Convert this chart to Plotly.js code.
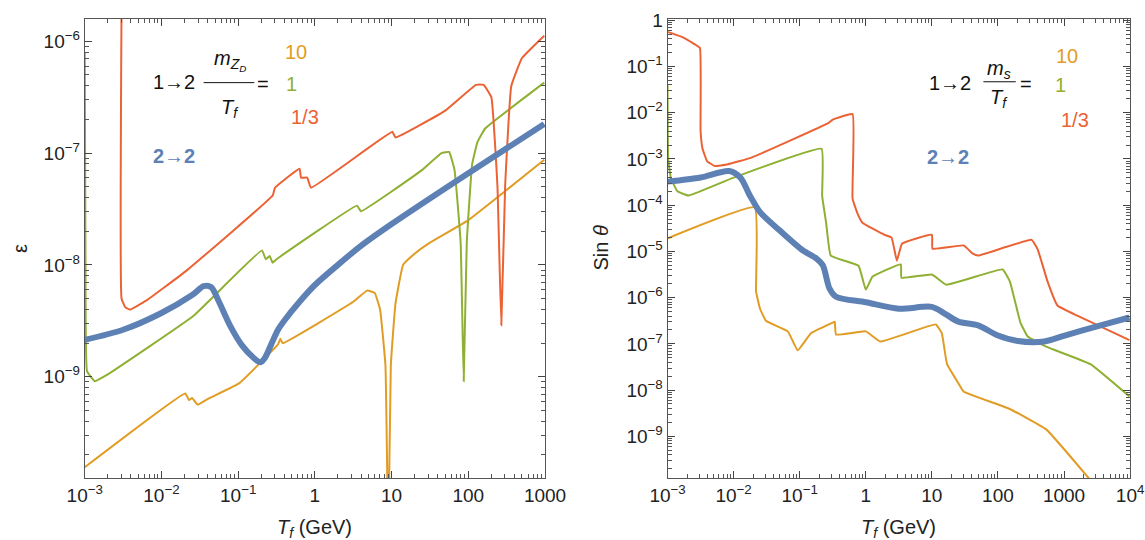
<!DOCTYPE html>
<html>
<head>
<meta charset="utf-8">
<script src="https://cdn.plot.ly/plotly-3.0.1.min.js"></script>
<style>body{margin:0;background:#fff}#plot{width:1145px;height:540px}</style>
</head>
<body>
<div id="plot"></div>
<script>
// values stored as log10 exponents
var leftOrangeX = [-3, -1.69, -1.64, -1.6, -1.53, -1.4, -0.99, -0.48, -0.45, -0.42, 0.5, 0.68, 0.78, 0.85, 0.92, 0.957, 0.99, 1.05, 1.15, 1.3, 1.48, 2.0, 2.99];
var leftOrangeY = [-9.81, -9.15, -9.21, -9.19, -9.25, -9.2, -9.06, -8.71, -8.66, -8.70, -8.33, -8.23, -8.25, -8.4, -8.9, -10.5, -8.9, -8.35, -8.0, -7.9, -7.81, -7.6, -7.06];
var leftGreenX = [-3, -2.99, -2.97, -2.87, -2.7, -1.59, -0.69, -0.64, -0.59, -0.55, -0.5, 0.55, 0.6, 1.4, 1.65, 1.75, 1.82, 1.9, 1.94, 1.98, 2.05, 2.12, 2.22, 2.99];
var leftGreenY = [-6.1, -8.0, -8.95, -9.04, -8.98, -8.46, -7.87, -7.95, -7.92, -7.98, -7.95, -7.47, -7.52, -7.15, -7.0, -6.99, -7.15, -7.8, -9.04, -7.8, -7.1, -6.9, -6.78, -6.37];
var leftRedX = [-2.52, -2.52, -2.47, -2.41, -2.2, -1.69, -0.55, -0.52, -0.2, -0.18, -0.1, -0.05, 1.01, 1.05, 1.7, 2.1, 2.2, 2.3, 2.38, 2.43, 2.48, 2.56, 2.7, 2.99];
var leftRedY = [-5.7, -8.3, -8.38, -8.40, -8.32, -8.06, -7.38, -7.31, -7.14, -7.22, -7.22, -7.31, -6.81, -6.86, -6.62, -6.39, -6.39, -6.5, -7.3, -8.54, -7.3, -6.4, -6.15, -5.95];
var leftBlueX = [-3, -2.5, -2, -1.6, -1.45, -1.35, -1.25, -1.1, -0.95, -0.8, -0.71, -0.65, -0.55, -0.48, -0.4, -0.2, 0, 0.3, 0.6, 1.01, 2, 2.99];
var leftBlueY = [-8.67, -8.58, -8.43, -8.27, -8.19, -8.2, -8.33, -8.55, -8.72, -8.83, -8.87, -8.83, -8.68, -8.58, -8.5, -8.33, -8.18, -8.0, -7.83, -7.63, -7.18, -6.74];

var rightRedX = [-3, -2.8, -2.6, -2.51, -2.5, -2.47, -2.4, -2.29, -2.1, -1.73, -0.56, -0.5, -0.2, -0.2, -0.12, -0.05, 0.28, 0.39, 0.47, 0.55, 1.0, 1.01, 1.48, 1.62, 1.7, 2.51, 2.6, 2.75, 2.9, 3.2, 3.99];
var rightRedY = [-0.25, -0.35, -0.51, -0.6, -2.4, -2.78, -3.05, -3.15, -3.12, -2.97, -2.22, -2.15, -2.03, -3.86, -4.2, -4.38, -4.64, -4.7, -5.2, -4.83, -4.64, -4.94, -4.87, -5.05, -5.09, -4.75, -4.95, -5.65, -6.17, -6.39, -6.92];
var rightGreenX = [-3, -2.99, -2.95, -2.85, -2.68, -2.01, -0.67, -0.66, -0.6, -0.53, -0.11, 0.0, 0.1, 0.53, 0.54, 1.0, 1.22, 2.07, 2.18, 2.34, 2.45, 2.73, 3.4, 3.99];
var rightGreenY = [-1.4, -3.0, -3.41, -3.7, -3.79, -3.41, -2.78, -3.8, -4.38, -5.09, -5.31, -5.83, -5.55, -5.28, -5.57, -5.5, -5.72, -5.39, -5.65, -6.54, -6.84, -7.06, -7.44, -8.14];
var rightOrangeX = [-3, -1.68, -1.66, -1.6, -1.51, -1.18, -1.03, -0.83, -0.5, -0.47, -0.45, 0.0, 0.22, 1.06, 1.15, 1.23, 1.4, 1.48, 2.18, 2.73, 3.4];
var rightOrangeY = [-4.72, -4.05, -5.87, -6.24, -6.5, -6.73, -7.14, -6.77, -6.54, -6.52, -6.8, -6.73, -6.95, -6.58, -6.77, -7.44, -7.85, -8.03, -8.41, -8.85, -9.95];
var rightBlueX = [-3, -2.5, -2.07, -1.9, -1.75, -1.6, -1.3, -0.95, -0.75, -0.65, -0.55, -0.45, 0, 0.5, 1.0, 1.2, 1.4, 1.7, 2.0, 2.3, 2.7, 3.01, 3.5, 3.99];
var rightBlueY = [-3.49, -3.4, -3.26, -3.4, -3.8, -4.15, -4.55, -4.98, -5.15, -5.3, -5.8, -5.98, -6.1, -6.24, -6.2, -6.35, -6.52, -6.6, -6.82, -6.94, -6.95, -6.82, -6.62, -6.43];

var leftTickVals = [-9, -8, -7, -6];
var rightTickVals = [-9, -8, -7, -6, -5, -4, -3, -2, -1, 0];
var leftXTicks = [-3, -2, -1, 0, 1, 2, 3];
var leftXText = ['10<sup>−3</sup>', '10<sup>−2</sup>', '10<sup>−1</sup>', '1', '10', '100', '1000'];
var rightXTicks = [-3, -2, -1, 0, 1, 2, 3, 4];
var rightXText = ['10<sup>−3</sup>', '10<sup>−2</sup>', '10<sup>−1</sup>', '1', '10', '100', '1000', '10<sup>4</sup>'];
var minorMult = [2, 3, 4, 5, 6, 7, 8, 9];

var blue = '#5E81B5', orange = '#E19C24', green = '#8FB032', red = '#EB6235';
function p(a) { return a.map(function (v) { return Math.pow(10, v); }); }
function sup(e) { return e === 0 ? '1' : '10<sup>' + (e < 0 ? '−' + (-e) : e) + '</sup>'; }
function minors(lo, hi) {
  var out = [];
  for (var e = lo; e <= hi; e++) minorMult.forEach(function (m) { out.push(m * Math.pow(10, e)); });
  return out;
}

function tr(x, y, c, w, ax, sm) {
  return {x: p(x), y: p(y), mode: 'lines', line: {color: c, width: w, shape: 'spline', smoothing: sm},
    xaxis: ax === 1 ? 'x' : 'x2', yaxis: ax === 1 ? 'y' : 'y2', hoverinfo: 'skip'};
}
var data = [
  tr(leftOrangeX, leftOrangeY, orange, 2, 1, 0.3),
  tr(leftGreenX, leftGreenY, green, 2, 1, 0.3),
  tr(leftRedX, leftRedY, red, 2, 1, 0.3),
  tr(leftBlueX, leftBlueY, blue, 6, 1, 0.8),
  tr(rightRedX, rightRedY, red, 2, 2, 0.3),
  tr(rightGreenX, rightGreenY, green, 2, 2, 0.3),
  tr(rightOrangeX, rightOrangeY, orange, 2, 2, 0.3),
  tr(rightBlueX, rightBlueY, blue, 6, 2, 0.8)
];

var tf = {family: 'Liberation Sans, Arial', size: 19, color: '#222'};
var yDom = [0.115, 0.965];
function xax(dom, r, tv, tt, anchor) {
  return {type: 'log', domain: dom, range: r, anchor: anchor, tickvals: p(tv), ticktext: tt,
    ticks: 'inside', ticklen: 7, mirror: 'allticks', showline: true, linecolor: '#555', linewidth: 1,
    showgrid: false, zeroline: false, tickfont: tf, automargin: false,
    minor: {tickvals: minors(r[0], r[1]), ticks: 'inside', ticklen: 4, showgrid: false, tickcolor: '#555'}};
}
function yax(r, tv, anchor) {
  return {type: 'log', domain: yDom, range: r, anchor: anchor, tickvals: p(tv),
    ticktext: tv.map(sup), ticks: 'inside', ticklen: 7, mirror: 'allticks', showline: true,
    linecolor: '#555', linewidth: 1, showgrid: false, zeroline: false, tickfont: tf, automargin: false,
    minor: {tickvals: minors(Math.floor(r[0]), Math.ceil(r[1])), ticks: 'inside', ticklen: 4, showgrid: false, tickcolor: '#555'}};
}

var af = {family: 'Liberation Sans, Arial', size: 20};
function an(ax, x, y, t, c) {
  return {xref: ax === 1 ? 'x' : 'x2', yref: ax === 1 ? 'y' : 'y2', x: x, y: y, text: t,
    showarrow: false, font: Object.assign({}, af, {color: c})};
}
function pan(x, y, t, rot) {
  return {xref: 'paper', yref: 'paper', x: x, y: y, xanchor: 'center', yanchor: 'middle',
    text: t, showarrow: false, textangle: rot || 0,
    font: {family: 'Liberation Sans, Arial', size: 20, color: '#222'}};
}
var annotations = [
  an(1, -1.83, -6.36, '1→2', '#111'),
  an(1, -1.11, -6.17, '<i>m</i><sub><i>Z<sub>D</sub></i></sub>', '#111'),
  an(1, -1.11, -6.6, '<i>T<sub>f</sub></i>', '#111'),
  an(1, -0.68, -6.38, '=', '#111'),
  an(1, -0.25, -6.1, '10', orange),
  an(1, -0.30, -6.38, '1', green),
  an(1, -0.13, -6.68, '1/3', red),
  an(1, -1.83, -7.03, '<b>2→2</b>', blue),
  an(2, 1.27, -1.35, '1→2', '#111'),
  an(2, 2.02, -1.06, '<i>m<sub>s</sub></i>', '#111'),
  an(2, 2.02, -1.7, '<i>T<sub>f</sub></i>', '#111'),
  an(2, 2.42, -1.37, '=', '#111'),
  an(2, 3.05, -0.77, '10', orange),
  an(2, 2.95, -1.4, '1', green),
  an(2, 3.17, -2.15, '1/3', red),
  an(2, 1.24, -2.96, '<b>2→2</b>', blue),
  pan(0.275, 0.022, '<i>T<sub>f</sub></i> (GeV)'),
  pan(0.785, 0.022, '<i>T<sub>f</sub></i> (GeV)'),
  pan(0.018, 0.54, 'ε', -90),
  pan(0.525, 0.54, 'Sin <i>θ</i>', -90)
];
var shapes = [
  {type: 'line', xref: 'x', yref: 'y', x0: Math.pow(10, -1.45), x1: Math.pow(10, -0.79),
   y0: Math.pow(10, -6.37), y1: Math.pow(10, -6.37), line: {color: '#111', width: 1}},
  {type: 'line', xref: 'x2', yref: 'y2', x0: Math.pow(10, 1.78), x1: Math.pow(10, 2.27),
   y0: Math.pow(10, -1.33), y1: Math.pow(10, -1.33), line: {color: '#111', width: 1}}
];

var layout = {
  width: 1145, height: 540, margin: {l: 0, r: 0, t: 0, b: 0},
  paper_bgcolor: '#fff', plot_bgcolor: '#fff', showlegend: false,
  xaxis: xax([0.074, 0.476], [-3, 3], leftXTicks, leftXText, 'y'),
  yaxis: yax([-9.905, -5.80], leftTickVals, 'x'),
  xaxis2: xax([0.583, 0.987], [-3, 4], rightXTicks, rightXText, 'y2'),
  yaxis2: yax([-9.9, 0.03], rightTickVals, 'x2'),
  annotations: annotations, shapes: shapes
};
Plotly.newPlot('plot', data, layout, {staticPlot: true});
</script>
</body>
</html>
